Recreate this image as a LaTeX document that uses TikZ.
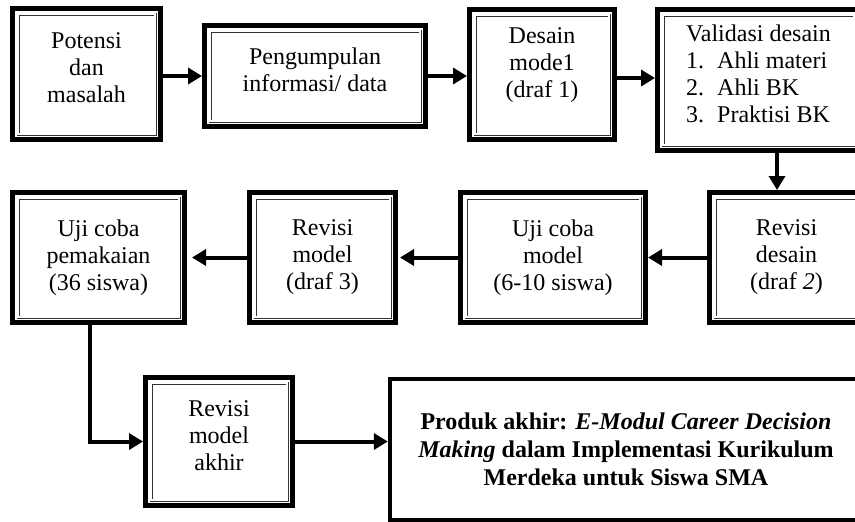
\documentclass[tikz,border=0pt]{standalone}
\usepackage{fontspec}
\setmainfont{Liberation Serif}
\usetikzlibrary{arrows.meta, positioning, calc}

\begin{document}
\begin{tikzpicture}[x=0.5pt, y=-0.5pt, font=\fontsize{12}{13.5}\selectfont]
		\tikzstyle{taskb}=[draw=black, line width=2.5pt, align=center, fill=white, inner sep=0pt]
		\tikzstyle{taskin}=[draw=black!80, line width=0.45pt, double=white, double distance=0.6pt]
		\tikzstyle{taskp}=[draw=black, line width=2.2pt, align=center, fill=white, inner sep=0pt]
		\tikzstyle{flow}=[line width=2pt, -{Triangle[length=7pt,width=8pt]}]
		%%
		\useasboundingbox (0,0) rectangle (855,521);
		\clip (0,0) rectangle (855,521);
		%% first row
		\node (pot) at (86.5,74) [taskb, minimum width=74pt, minimum height=65.5pt, text depth=6pt] {Potensi\\dan\\masalah};
		\node (peng) at (315,76) [taskb, minimum width=110.5pt, minimum height=50.5pt, text depth=6pt] {Pengumpulan\\informasi/ data};
		\node (des) at (542,74.5) [taskb, minimum width=72.5pt, minimum height=65pt, text depth=11.5pt] {Desain\\mode1\\(draf 1)};
		\node (val) at (758.5,80) [taskb, minimum width=101pt, minimum height=70.5pt, align=left, text depth=6pt] {Validasi desain\\\makebox[15.5pt][l]{1.}Ahli materi\\\makebox[15.5pt][l]{2.}Ahli BK\\\makebox[15.5pt][l]{3.}Praktisi BK};
		%% second row
		\node (ujp) at (98.5,257.5) [taskb, minimum width=86pt, minimum height=65pt] {Uji coba\\pemakaian\\(36 siswa)};
		\node (rm3) at (322.5,257.5) [taskb, minimum width=73pt, minimum height=65pt] {Revisi\\model\\(draf 3)};
		\node (ujm) at (553,257.5) [taskb, minimum width=92.5pt, minimum height=65pt] {Uji coba\\model\\(6-10 siswa)};
		\node (rd2) at (786.5,257.5) [taskb, minimum width=77pt, minimum height=65pt] {Revisi\\desain\\(draf \textit{2})};
		%% third row
		\node (rma) at (219,441.5) [taskb, minimum width=73.5pt, minimum height=64pt, text depth=6pt] {Revisi\\model\\akhir};
		\node (prod) at (626,449.5) [taskp, minimum width=236pt, minimum height=70.5pt, font=\fontsize{12}{14}\selectfont\bfseries] {Produk akhir: \textit{E-Modul Career Decision}\\\textit{Making} dalam Implementasi Kurikulum\\Merdeka untuk Siswa SMA};
		
		\foreach \n in {pot,peng,des,val,ujp,rm3,ujm,rd2,rma}
			\draw [taskin] ([shift={(4pt,-4pt)}]\n.north west) rectangle ([shift={(-4pt,4pt)}]\n.south east);
		
		\draw [flow] (pot.east |- peng.west) -- (peng.west);
		\draw [flow] (peng.east) -- (peng.east -| des.west);
		\draw [flow] ([yshift=-1.75pt]des.east) -- ([yshift=-1.75pt]des.east -| val.west);
		\draw [flow] ([xshift=9.25pt]val.south) -- ([xshift=9.25pt]val.south |- rd2.north);
		\draw [flow] (rd2.west) -- (ujm.east);
		\draw [flow, shorten >=1pt] (ujm.west) -- (rm3.east);
		\draw [flow, shorten >=2.5pt] (rm3.west) -- (ujp.east);
		\draw [flow] ([xshift=-4.25pt]ujp.south) |- (rma.west);
		\draw [flow] (rma.east) -- (rma.east -| prod.west);
\end{tikzpicture}
\end{document}
